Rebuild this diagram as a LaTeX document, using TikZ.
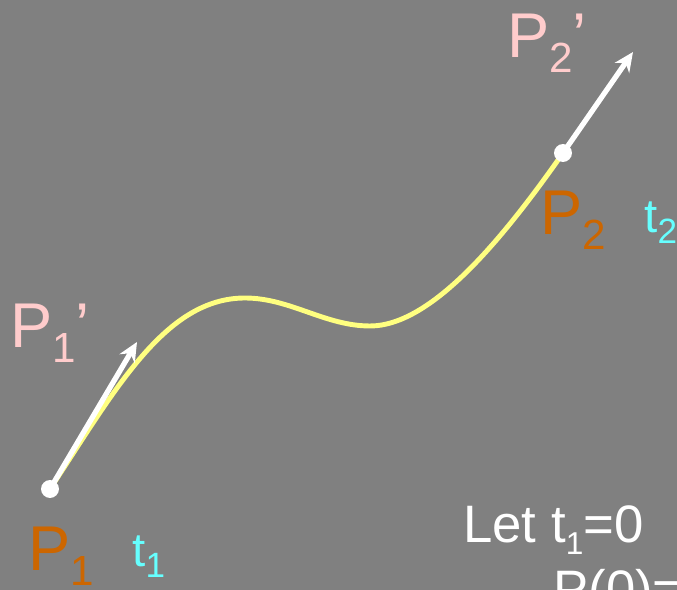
\documentclass[tikz,border=0pt]{standalone}
\usepackage{fontspec}
\setmainfont{Liberation Sans}
\usetikzlibrary{arrows.meta}
\definecolor{bggray}{HTML}{808080}
\definecolor{ptpink}{HTML}{FFCCCC}
\definecolor{ptorange}{HTML}{CC6600}
\definecolor{tcyan}{HTML}{66FFFF}
\definecolor{curveyellow}{HTML}{FFFF80}
\newcommand{\ptname}[1]{P\raisebox{-8.5pt}{\fontsize{24}{24}\selectfont #1}}
\newcommand{\tname}[1]{t\raisebox{-6pt}{\fontsize{20}{20}\selectfont #1}}
\tikzset{
  dot/.style={circle, fill=white, inner sep=0pt, minimum size=18pt*0.5669},
  tangent/.style={white, line width=3pt, -{Stealth[length=11pt, width=10pt]}},
  lbl/.style={anchor=base west, inner sep=0pt}
}
\begin{document}
\begin{tikzpicture}[x=0.02cm, y=-0.02cm, font=\fontsize{36}{40}\selectfont]
  \fill[bggray] (0,0) rectangle (677,590);
  \useasboundingbox (0,0) rectangle (677,590);
  \clip (0,0) rectangle (677,590);
  % end points and tips of the tangents
  \coordinate (P1) at (50,489);
  \coordinate (P2) at (563,153);
  \coordinate (T1) at (137,342);
  \coordinate (T2) at (633,52);
  % the curve
  \draw[curveyellow, line width=2.8pt] (P1) .. controls (115,390) and (165,298) .. (245,298)
    .. controls (290,298) and (325,326) .. (370,326)
    .. controls (430,326) and (500,243) .. (P2);
  % tangents
  \draw[tangent] (P1) -- (T1);
  \draw[tangent] (P2) -- (T2);
  \node[dot] (d1) at (P1) {};
  \node[dot] (d2) at (P2) {};
  % labels
  \node[lbl, ptpink] (p1prime) at (10,348) {\ptname{1}’};
  \node[lbl, ptorange] (p1) at (28,571) {\ptname{1}};
  \node[lbl, tcyan, font=\fontsize{27}{30}\selectfont] (t1) at (132,567) {\tname{1}};
  \node[lbl, ptpink] (p2prime) at (507,58) {\ptname{2}’};
  \node[lbl, ptorange] (p2) at (540,235) {\ptname{2}};
  \node[lbl, tcyan, font=\fontsize{27}{30}\selectfont] (t2) at (644,233) {\tname{2}};
  \node[lbl, white, font=\fontsize{30}{34}\selectfont] (let) at (463,543)
    {Let t\raisebox{-6.8pt}{\fontsize{18}{18}\selectfont 1}=0};
  \node[lbl, white, font=\fontsize{30}{34}\selectfont] (pzero) at (553,608) {P(0)=};
\end{tikzpicture}
\end{document}
